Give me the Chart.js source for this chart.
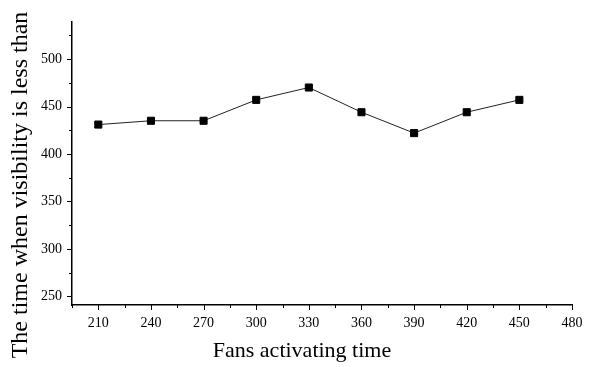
<!DOCTYPE html>
<html>
<head>
<meta charset="utf-8">
<script src="https://cdn.jsdelivr.net/npm/chart.js@4"></script>
<style>
  html, body { margin: 0; padding: 0; background: #fff; }
  #wrap { width: 597px; height: 367px; }
</style>
</head>
<body>
<div id="wrap"><canvas id="chart" width="597" height="367"></canvas></div>
<script>
// fans activating time (x) and time when visibility drops (y)
var fansTime = [210, 240, 270, 300, 330, 360, 390, 420, 450];
var visTime = [431, 435, 435, 457, 470, 444, 422, 444, 457];

// tick positions on the y axis (labelled every 50, minor in between)
var yTickValues = [250, 275, 300, 325, 350, 375, 400, 425, 450, 475, 500, 525];

var xTitle = "Fans activating time";
var yTitle = "The time when visibility is less than";

var serif = "'Liberation Serif', 'Times New Roman', serif";

// outward tick marks (long on labelled values, short in between) + axis titles
var axisDecor = {
    id: 'axisDecor',
    afterDraw: function (chart) {
        var ctx = chart.ctx,
            xs = chart.scales.x,
            ys = chart.scales.y,
            area = chart.chartArea;
        ctx.save();
        ctx.strokeStyle = '#000';
        ctx.lineWidth = 1;
        xs.ticks.forEach(function (t) {
            var px = Math.round(xs.getPixelForValue(t.value)) + 0.5;
            var len = t.value % 30 === 0 ? 5 : 3;
            ctx.beginPath();
            ctx.moveTo(px, area.bottom);
            ctx.lineTo(px, area.bottom + len);
            ctx.stroke();
        });
        ys.ticks.forEach(function (t) {
            var py = Math.round(ys.getPixelForValue(t.value)) + 0.5;
            var len = t.value % 50 === 0 ? 5 : 3;
            ctx.beginPath();
            ctx.moveTo(area.left, py);
            ctx.lineTo(area.left - len, py);
            ctx.stroke();
        });

        ctx.fillStyle = '#000';
        ctx.font = '22px ' + serif;
        ctx.textAlign = 'center';
        ctx.textBaseline = 'alphabetic';
        ctx.fillText(xTitle, 302, 357);

        ctx.translate(21, 185);
        ctx.rotate(-Math.PI / 2);
        ctx.font = '24px ' + serif;
        ctx.textBaseline = 'middle';
        ctx.fillText(yTitle, 0, 0);
        ctx.restore();
    }
};

new Chart(document.getElementById('chart'), {
    type: 'line',
    data: {
        datasets: [{
            data: fansTime.map(function (x, i) { return { x: x, y: visTime[i] }; }),
            borderColor: '#222',
            borderWidth: 1,
            pointStyle: 'rect',
            pointRadius: 5,
            pointHoverRadius: 5,
            pointBackgroundColor: '#000',
            pointBorderColor: '#000',
            pointBorderWidth: 1,
            tension: 0,
            fill: false
        }]
    },
    options: {
        responsive: false,
        animation: false,
        events: [],
        layout: { padding: { top: 22, right: 25, bottom: 0, left: 0 } },
        plugins: { legend: { display: false }, tooltip: { enabled: false } },
        scales: {
            x: {
                type: 'linear',
                min: 195,
                max: 480,
                afterFit: function (s) { s.height = 62; },
                ticks: {
                    stepSize: 15,
                    autoSkip: false,
                    maxRotation: 0,
                    padding: 10,
                    color: '#000',
                    font: { family: serif, size: 14 },
                    callback: function (v) { return v % 30 === 0 ? v : ''; }
                },
                grid: { drawOnChartArea: false, drawTicks: false, color: 'rgba(0,0,0,0)' },
                border: { display: true, color: '#000', width: 1.5 }
            },
            y: {
                min: 241,
                max: 539,
                afterFit: function (s) { s.width = 72; },
                afterBuildTicks: function (s) {
                    s.ticks = yTickValues.map(function (v) { return { value: v }; });
                },
                ticks: {
                    autoSkip: false,
                    padding: 10,
                    color: '#000',
                    font: { family: serif, size: 14 },
                    callback: function (v) { return v % 50 === 0 ? v : ''; }
                },
                grid: { drawOnChartArea: false, drawTicks: false, color: 'rgba(0,0,0,0)' },
                border: { display: true, color: '#000', width: 1.5 }
            }
        }
    },
    plugins: [axisDecor]
});
</script>
</body>
</html>
